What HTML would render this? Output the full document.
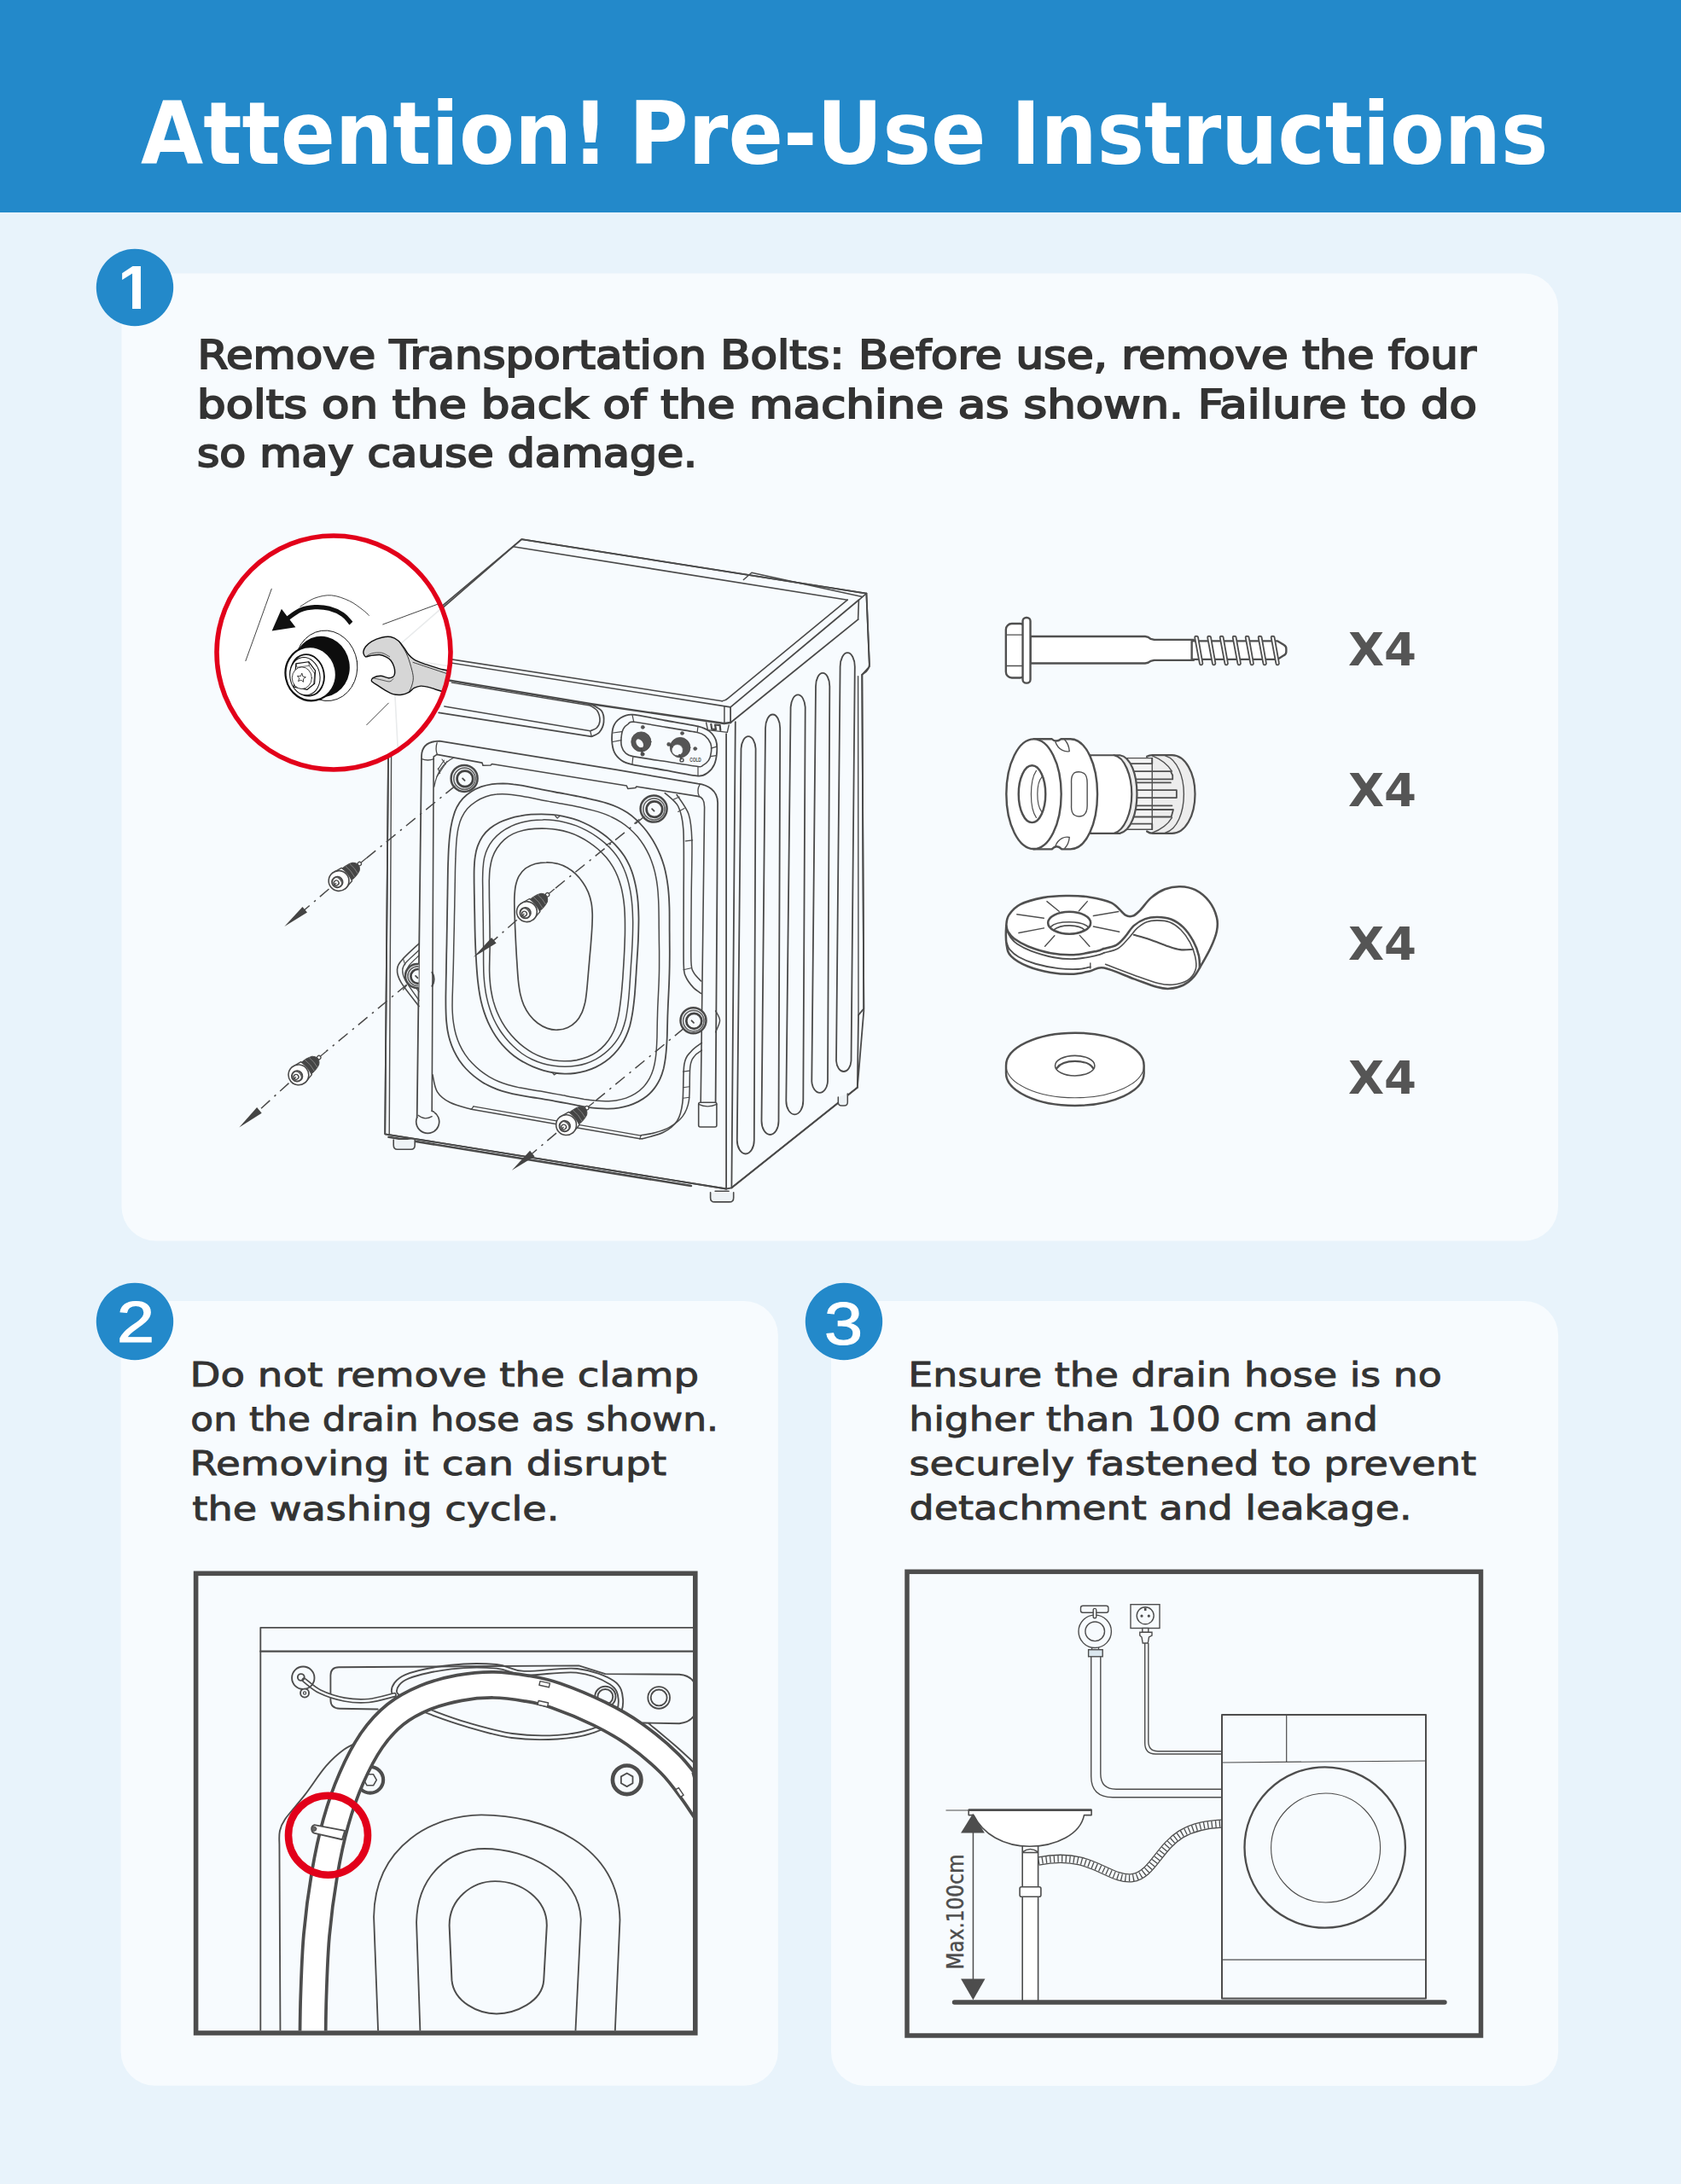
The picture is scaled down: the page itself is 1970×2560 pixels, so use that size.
<!DOCTYPE html>
<html lang="en">
<head>
<meta charset="utf-8">
<title>Attention! Pre-Use Instructions</title>
<style>
html,body{margin:0;padding:0;background:#e8f3fb;}
body{width:1970px;height:2560px;overflow:hidden;}
svg{display:block;}
svg{font-family:"Liberation Sans","DejaVu Sans",sans-serif;}
.ln{fill:none;stroke:#4a4a4a;stroke-width:2;stroke-linecap:round;stroke-linejoin:round;}
.lnf{fill:#f7fbfe;stroke:#4a4a4a;stroke-width:2;stroke-linecap:round;stroke-linejoin:round;}
.thin{fill:none;stroke:#4a4a4a;stroke-width:1.3;stroke-linecap:round;stroke-linejoin:round;}
</style>
</head>
<body>
<svg width="1970" height="2560" viewBox="0 0 1970 2560">
<!-- 10_base.svg -->
<rect x="0" y="0" width="1970" height="2560" fill="#e8f3fb"/>
<rect x="0" y="0" width="1970" height="249" fill="#2389ca"/>
<g font-size="102" font-weight="700" fill="#ffffff" font-family="'DejaVu Sans','Liberation Sans',sans-serif">
<text x="165" y="191.5" textLength="548.4" lengthAdjust="spacingAndGlyphs">Attention!</text>
<text x="737" y="191.5" textLength="418.4" lengthAdjust="spacingAndGlyphs">Pre-Use</text>
<text x="1185" y="191.5" textLength="629.3" lengthAdjust="spacingAndGlyphs">Instructions</text>
</g>
<!-- cards -->
<rect x="142.5" y="320.5" width="1683.5" height="1134" rx="40" fill="#f7fbfe"/>
<rect x="141.6" y="1525" width="770.2" height="919.8" rx="40" fill="#f7fbfe"/>
<rect x="974" y="1525" width="852.1" height="920" rx="40" fill="#f7fbfe"/>
<!-- step badges -->
<circle cx="158" cy="337" r="45.2" fill="#2389ca"/>
<clipPath id="one"><path d="M100,290 H220 V354 H164.95 V366 H155.05 V354 H100 Z"/></clipPath>
<text x="138.2" y="362" font-size="72" font-weight="700" fill="#fff" clip-path="url(#one)">1</text>
<circle cx="158" cy="1549" r="45.2" fill="#2389ca"/>
<text x="159" y="1572.5" font-size="69" fill="#fff" stroke="#fff" stroke-width="1.2" text-anchor="middle" textLength="44" lengthAdjust="spacingAndGlyphs">2</text>
<circle cx="989" cy="1549" r="45.2" fill="#2389ca"/>
<text x="988.5" y="1576" font-size="71" fill="#fff" stroke="#fff" stroke-width="1.2" text-anchor="middle" textLength="45" lengthAdjust="spacingAndGlyphs">3</text>
<!-- card 1 text -->
<g font-size="46" fill="#333333" stroke="#333333" stroke-width="2" font-family="'DejaVu Sans','Liberation Sans',sans-serif">
<text x="231.5" y="432" textLength="1498.5" lengthAdjust="spacingAndGlyphs">Remove Transportation Bolts: Before use, remove the four</text>
<text x="231" y="490" textLength="1500" lengthAdjust="spacingAndGlyphs">bolts on the back of the machine as shown. Failure to do</text>
<text x="231" y="547" textLength="586.1" lengthAdjust="spacingAndGlyphs">so may cause damage.</text>
</g>
<!-- card 2 text -->
<g font-size="38.8" fill="#333333" stroke="#333333" stroke-width="0.9" font-family="'DejaVu Sans','Liberation Sans',sans-serif">
<text x="222.5" y="1625" textLength="596.6" lengthAdjust="spacingAndGlyphs">Do not remove the clamp</text>
<text x="223.3" y="1677" textLength="618.6" lengthAdjust="spacingAndGlyphs">on the drain hose as shown.</text>
<text x="222.5" y="1729" textLength="558.6" lengthAdjust="spacingAndGlyphs">Removing it can disrupt</text>
<text x="225.3" y="1782" textLength="430.1" lengthAdjust="spacingAndGlyphs">the washing cycle.</text>
</g>
<!-- card 3 text -->
<g font-size="38.8" fill="#333333" stroke="#333333" stroke-width="0.9" font-family="'DejaVu Sans','Liberation Sans',sans-serif">
<text x="1064.3" y="1625" textLength="625.6" lengthAdjust="spacingAndGlyphs">Ensure the drain hose is no</text>
<text x="1065.3" y="1677" textLength="549.6" lengthAdjust="spacingAndGlyphs">higher than 100 cm and</text>
<text x="1065.5" y="1729" textLength="664.5" lengthAdjust="spacingAndGlyphs">securely fastened to prevent</text>
<text x="1065.5" y="1781" textLength="589.1" lengthAdjust="spacingAndGlyphs">detachment and leakage.</text>
</g>
<!-- x4 labels -->
<g font-size="53.5" font-weight="700" fill="#555555" font-family="'DejaVu Sans','Liberation Sans',sans-serif">
<text x="1580" y="780" textLength="80.1" lengthAdjust="spacingAndGlyphs">X4</text>
<text x="1580" y="944.5" textLength="80.1" lengthAdjust="spacingAndGlyphs">X4</text>
<text x="1580" y="1124.5" textLength="80.1" lengthAdjust="spacingAndGlyphs">X4</text>
<text x="1580" y="1281.5" textLength="80.1" lengthAdjust="spacingAndGlyphs">X4</text>
</g>

<!-- 20_washer.svg -->
<g id="washer" stroke="#4a4a4a" fill="none" stroke-linecap="round" stroke-linejoin="round">
<path d="M456.1,762.4 L611.3,632.1 L1015.4,695.7 L1018.9,781.3 L1010.3,790.8 L1012.3,1184.9 L1004.8,1274.8 L857.4,1392.3 L851.1,1393.5 L451.2,1329.3 Z" stroke-width="1.8" fill="#f7fbfe" />
<path d="M851.1,1393.5 L851.1,860.1" stroke-width="1.8" fill="none" />
<path d="M861.8,846.1 L857.4,1392.3" stroke-width="1.8" fill="none" />
<path d="M857.4,1392.3 L1004.8,1274.8" stroke-width="1.8" fill="none" />
<path d="M1010.3,790.8 L1012.3,1182.4 L1006,1189.9 L1004.8,1274.8" stroke-width="1.8" fill="none" />
<path d="M1005.6,792.7 L1006,1189.9" stroke-width="1.4" fill="none" />
<path d="M863.8,1336.5 L868.5,877.5 A8.6,16.2 0 0 1 885.6,877.5 L883.8,1336.5 A10.0,16.0 0 0 1 863.8,1336.5 Z" stroke-width="1.8" fill="none" />
<path d="M892.5,1314.0 L897.0,853.8 A8.6,16.3 0 0 1 914.2,853.8 L912.5,1314.0 A10.0,16.0 0 0 1 892.5,1314.0 Z" stroke-width="1.8" fill="none" />
<path d="M921.3,1290.3 L926.6,828.9 A8.6,16.2 0 0 1 943.7,828.9 L941.3,1290.3 A10.0,16.0 0 0 1 921.3,1290.3 Z" stroke-width="1.8" fill="none" />
<path d="M951.3,1267.5 L956.0,804.5 A8.1,15.5 0 0 1 972.3,804.5 L970.0,1267.5 A9.4,15.0 0 0 1 951.3,1267.5 Z" stroke-width="1.8" fill="none" />
<path d="M980.0,1243.5 L984.6,781.5 A8.6,16.3 0 0 1 1001.8,781.5 L997.5,1243.5 A8.8,14.0 0 0 1 980.0,1243.5 Z" stroke-width="1.8" fill="none" />
<path d="M461.4,762.4 L611.3,632.1 L1015.4,695.7" stroke-width="1.8" fill="none" />
<path d="M602.4,640 L614.2,640" stroke-width="0" fill="none" />
<path d="M601.3,640.7 L993.2,703.2" stroke-width="1.6" fill="none" />
<path d="M871.4,679.5 L880.9,671.3 L1010.4,699.5" stroke-width="1.5" fill="none" />
<path d="M993.2,703.2 L853.3,818.4 Q850.5,821.3 846.2,821.7" stroke-width="1.6" fill="none" />
<path d="M1006.4,703.3 L856.1,828.9 L856.1,847" stroke-width="1.8" fill="none" />
<path d="M848.9,827.7 L848.9,848" stroke-width="1.5" fill="none" />
<path d="M1015.4,695.7 L1006.4,703.3 L1005.6,726.1" stroke-width="1.6" fill="none" />
<path d="M1015.4,695.7 L1018.9,778.5 Q1018.9,785.6 1010.4,790.8" stroke-width="1.8" fill="none" />
<path d="M856.2,847 L1005.6,726.1" stroke-width="1.8" fill="none" />
<path d="M461.4,762.4 L846.2,821.7" stroke-width="1.6" fill="none" />
<path d="M463.6,766.7 L856.1,828.9" stroke-width="1.6" fill="none" />
<path d="M461.4,786.7 L691.6,825 L848.5,848 L856.2,847" stroke-width="2.4" fill="none" />
<path d="M529.2,800.1 L691.6,827" stroke-width="1.3" fill="none" />
<path d="M691.7,825 C693.9,826.4 702.3,829.7 705,833.3 C707.6,836.9 707.9,842.5 707.5,846.7 C707.1,850.8 704.8,855.5 702.5,858.3 C700.1,861.1 694.9,862.5 693.3,863.3 L514.2,835.3" stroke-width="1.8" fill="none" />
<path d="M691.7,827 C693.1,828.1 698.1,830.3 700,833.3 C701.9,836.3 703.1,841.7 703,845 C702.8,848.3 701,851.4 699.2,853.3 C697.3,855.3 692.9,856.1 691.7,856.7 L520.8,828.0" stroke-width="1.6" fill="none" />
<path d="M693.3,863.3 L691.7,856.7" stroke-width="1.3" fill="none" />
<path d="M740.9,837.6 C748.3,838 768.7,842.5 779.5,844.5 C790.3,846.4 810.8,849.6 818,851.4 C825.3,853.2 828.4,854.9 831.4,857.1 C834.3,859.4 837.7,864.1 839,867.6 C840.2,871.1 840.4,877.9 840.1,881.9 C839.8,885.9 838.6,892.8 837.1,896.1 C835.6,899.5 832.1,903.8 829.4,905.7 C826.8,907.5 825,909.9 818,909.5 C811,909.1 790.3,904.7 779.5,902.8 C768.7,900.9 748.1,897.7 740.9,896.1 C733.8,894.5 731.5,893.4 728.6,891.4 C725.6,889.4 721.6,885.2 720,881.9 C718.4,878.5 717.3,871.9 717.1,867.6 C717,863.3 717.7,855 719,851.4 C720.4,847.8 723.6,843.8 726.7,841.9 C729.7,840 733.5,837.2 740.9,837.6 Z" stroke-width="1.8" fill="none" />
<path d="M742.8,846.2 C749,846.7 769.6,850.6 780,852.4 C790.3,854.1 810.5,857.1 817.1,858.5 C823.6,860 824.4,861 826.6,862.8 C828.8,864.6 831.8,868.7 832.8,871.4 C833.7,874.1 833.8,879.1 833.4,881.9 C833.1,884.7 831.8,889.3 830.4,891.4 C829,893.5 825.5,896.1 823.7,897.1 C822,898.1 824.2,899.2 818,898.5 C811.9,897.9 790.6,894.2 780,892.5 C769.3,890.9 748.4,888 741.9,886.6 C735.4,885.3 735.2,884.4 733.3,882.8 C731.4,881.2 729.3,877.7 728.6,875.2 C727.8,872.7 727.8,867.7 728.1,864.7 C728.3,861.8 729.3,856.5 730.5,854.3 C731.6,852 734.4,849.7 736.2,848.6 C737.9,847.4 736.7,845.6 742.8,846.2 Z" stroke-width="1.6" fill="none" />
<path d="M740.9,837.6 L742.8,846.2" stroke-width="1.2" fill="none" />
<path d="M818,851.4 L817.1,858.5" stroke-width="1.2" fill="none" />
<path d="M818,909.5 L818,898.5" stroke-width="1.2" fill="none" />
<path d="M740.9,896.1 L741.9,886.6" stroke-width="1.2" fill="none" />
<path d="M718.6,859 L728.6,857.6" stroke-width="1.2" fill="none" />
<path d="M718.1,869.5 L728.1,867.6" stroke-width="1.2" fill="none" />
<path d="M833.3,877.1 L839.9,875.2" stroke-width="1.2" fill="none" />
<path d="M832.8,886.6 L839.4,885.7" stroke-width="1.2" fill="none" />
<circle cx="751.4" cy="869.5" r="11.6" fill="#555" stroke-width="0.8" />
<ellipse cx="749.7" cy="871.4" rx="3.6" ry="5.6" fill="#f7fbfe" stroke="none" transform="rotate(-35 749.7 871.4)"/>
<circle cx="753.3" cy="852.4" r="2.1" fill="#555" stroke-width="0.4" />
<circle cx="753.0" cy="884.0" r="2.3" fill="#555" stroke-width="0.4" />
<path d="M751.4,877.1 L753,884" stroke-width="2" fill="none" />
<circle cx="797.1" cy="876.2" r="11.8" fill="#555" stroke-width="0.8" />
<circle cx="793.8" cy="879.2" r="6.6" fill="#f7fbfe" stroke-width="0.6" />
<circle cx="799.5" cy="859.5" r="2.1" fill="#555" stroke-width="0.4" />
<circle cx="783.8" cy="872.4" r="2.2" fill="#555" stroke-width="0.4" />
<circle cx="814.7" cy="877.6" r="2.1" fill="#555" stroke-width="0.4" />
<circle cx="799.0" cy="890.9" r="2.0" fill="#f7fbfe" stroke-width="1.4" />
<path d="M796.1,884.7 L798.6,889.5" stroke-width="1.8" fill="none" />
<path d="M784.7,873.3 L788,875.7" stroke-width="1.6" fill="none" />
<text x="808.3" y="893.1" font-size="6.4" font-weight="700" fill="#4a4a4a" stroke="none" font-family="'Liberation Sans',sans-serif" textLength="13.5" lengthAdjust="spacingAndGlyphs">COLD</text>
<path d="M827.6,847 L829.5,855.6 L852.3,858.4 L854.2,849.9" stroke-width="1.4" fill="none" />
<path d="M833.3,848.9 L834.2,854.6 L839,855.2 L838,849.5 L843.7,850.2 L844.3,856" stroke-width="2.2" fill="none" />
<path d="M456.1,762.4 L451.2,1329.3 L851.1,1393.5" stroke-width="1.8" fill="none" />
<path d="M458.6,880 L456.2,1330.3" stroke-width="1.4" fill="none" />
<path d="M455.5,1332.8 L809.9,1390" stroke-width="2.6" fill="none" />
<path d="M461.2,1336.1 v6.1 q0,5.0 4.5,5.0 h16.0 q4.5,0 4.5,-5.0 v-6.1" stroke-width="1.6" fill="#eef3f6" />
<path d="M466.2,1334.6 h15.0" stroke-width="1.4" fill="none" />
<path d="M832.6,1397.8 v6.1 q0,5.0 4.9,5.0 h17.3 q4.9,0 4.9,-5.0 v-6.1" stroke-width="1.6" fill="#eef3f6" />
<path d="M838.0,1396.3 h16.2" stroke-width="1.4" fill="none" />
<path d="M982.3,1286.1 v6 q0,4 4,4 h3 q4,0 4,-4 v-10" stroke-width="1.5" fill="#eef3f6" />
<path d="M488.7,1309.8 L494,886 Q494.5,869 515,868.6 L723.2,902.4 L817.9,918.7 C829,920 841.1,926 841.1,941 L838.6,1292.3" stroke-width="1.8" fill="none" />
<path d="M506.2,1302.3 L508.2,887 L512,884.4 L565,894.1 l1,3.2 l9,-0.3 l1.5,-1.5 L734.3,921 l1.5,3.5 l9,-1 l1,-1.5 L817.9,933.4 Q825.6,934.5 825.6,946 L821.2,1292.3" stroke-width="1.6" fill="none" />
<path d="M512.1,870.7 Q510.0,877.5 512.3,884.3" stroke-width="1.3" fill="none" />
<path d="M494.2,889.7 Q501.4,892.3 508.5,889.7" stroke-width="1.3" fill="none" />
<path d="M820.2,919.4 Q816.0,926.4 819.4,933.4" stroke-width="1.3" fill="none" />
<path d="M531.1,888.5 Q513.3,897.1 508.8,922.1" stroke-width="1.3" fill="none" />
<path d="M513.3,901.9 L520.4,891.2" stroke-width="1.1" fill="none" />
<path d="M512.1,910.2 L524,892.3" stroke-width="1.1" fill="none" />
<path d="M518,890 L522.2,895.9" stroke-width="1.1" fill="none" />
<path d="M513.3,900.7 L515.7,906.6" stroke-width="1.1" fill="none" />
<path d="M488.7,1309.8 A13.5,13.5 0 1 0 506.2,1302.3" stroke-width="1.7"/>
<path d="M490.0,1307.3 Q497.5,1313.6 506.2,1308.6" stroke-width="1.3"/>
<rect x="818.7" y="1292.3" width="21.2" height="28.7" rx="2" fill="#f7fbfe" stroke-width="1.6"/>
<path d="M818.7,1294.3 q10.6,5 21.2,0" stroke-width="1.3"/>
<path d="M779.2,929.5 C781.3,931.6 791.8,939.2 794.7,945 C797.6,950.8 800,958.8 800.9,972.8 C801.8,986.8 801.2,1029 801.2,1050 C801.2,1071 800.9,1117.3 801.2,1130 C801.5,1142.7 802.2,1141.2 803.7,1144.9 C805.2,1148.6 810,1154.8 812.4,1157.4 C814.8,1160 820.3,1163.6 821.5,1164.5" stroke-width="1.6" fill="none" />
<path d="M793.1,931.5 C795,934.5 804.6,947 807,954.2 C809.4,961.4 810.5,972.4 810.9,985.2 C811.3,998 810.3,1031.2 810.2,1050 C810.1,1068.8 809.5,1114.2 809.9,1126.2 C810.3,1138.2 811.4,1136.7 812.9,1139.9 C814.4,1143.1 820.4,1148.7 821.5,1150" stroke-width="1.5" fill="none" />
<path d="M788.5,937.5 L796.2,934.1" stroke-width="1.1" fill="none" />
<path d="M794.7,951.5 L802.1,947.6" stroke-width="1.1" fill="none" />
<path d="M803.2,985.9 L811.7,984.9" stroke-width="1.1" fill="none" />
<path d="M800.9,1136.8 l9,-2" stroke-width="1.1" fill="none" />
<path d="M822.4,1222.4 C820.3,1224 813.3,1228.2 809.9,1232.4 C806.5,1236.5 803.6,1237.4 801.9,1247.4 C800.2,1257.4 801.3,1281.3 799.9,1292.3 C798.5,1303.4 797.4,1307.7 793.7,1313.6 C789.9,1319.4 784.3,1323.8 777.4,1327.3 C770.6,1330.8 756.6,1333.6 752.4,1334.8" stroke-width="1.6" fill="none" />
<path d="M822.4,1231.1 C821.1,1232.2 816.7,1234.2 814.4,1237.4 C812.2,1240.5 810.1,1241.1 808.9,1249.9 C807.7,1258.6 808.9,1280 807.4,1289.8 C805.9,1299.6 803.7,1303.4 799.9,1308.6 C796.2,1313.8 790.3,1317.9 784.9,1321.1 C779.5,1324.3 773.1,1326.2 767.4,1327.8 C761.8,1329.4 753.9,1330.3 751.2,1330.8" stroke-width="1.5" fill="none" />
<path d="M752.4,1334.8 L749.8,1334.8" stroke-width="1.6" fill="none" />
<path d="M751.1,1331.1 L554.9,1296.8" stroke-width="1.3" fill="none" />
<path d="M749.8,1334.8 L552.4,1300.3" stroke-width="1.6" fill="none" />
<path d="M552.4,1300.3 C548.3,1299 534.1,1295.7 527.4,1292.3 C520.8,1288.9 515.9,1285.3 512.5,1279.8 C509,1274.4 507.9,1263.2 507,1259.9" stroke-width="1.6" fill="none" />
<path d="M749.8,1334.8 L751.1,1331.1" stroke-width="1.2" fill="none" />
<path d="M552.4,1300.3 L554.9,1296.8" stroke-width="1.2" fill="none" />
<path d="M800.4,1256.1 L807.9,1255.1" stroke-width="1.1" fill="none" />
<path d="M800.4,1274.8 L807.9,1273.8" stroke-width="1.1" fill="none" />
<path d="M800.4,1287.3 L807.9,1286.3" stroke-width="1.1" fill="none" />
<path d="M524.7,1032.1 C524.8,1028 524.8,1023.9 524.9,1019.7 C525,1015.6 525.1,1011.3 525.3,1007.2 C525.4,1003 525.6,999 525.8,994.8 C526.1,990.6 526.4,986.2 526.8,982 C527.3,977.7 527.7,973.4 528.5,969.2 C529.2,965.1 530.1,960.8 531.3,956.9 C532.4,953 533.8,949.2 535.6,945.7 C537.5,942.2 539.8,938.7 542.5,935.8 C545.3,932.8 548.6,930.1 552.2,927.9 C555.8,925.6 559.9,923.7 564,922.2 C568.1,920.8 572.6,919.8 576.8,919.1 C581.1,918.5 585.3,918.3 589.4,918.3 C593.6,918.4 597.7,918.8 601.8,919.3 C605.9,919.7 609.8,920.5 613.9,921.2 C618,922 622,922.8 626.1,923.6 C630.2,924.5 634.4,925.3 638.6,926.1 C642.7,926.9 646.8,927.7 650.9,928.5 C654.9,929.3 659,930 663,930.7 C667,931.5 671,932.2 675,933 C679,933.8 683.1,934.6 687.2,935.5 C691.3,936.4 695.5,937.3 699.7,938.4 C703.8,939.4 708.2,940.5 712.3,941.9 C716.4,943.2 720.5,944.7 724.3,946.5 C728.1,948.3 731.7,950.3 735.2,952.6 C738.7,954.9 742,957.6 745.1,960.4 C748.2,963.2 751.1,966.3 753.9,969.5 C756.7,972.7 759.3,976.1 761.7,979.7 C764.1,983.2 766.4,987 768.4,990.8 C770.5,994.7 772.3,998.6 773.9,1002.6 C775.5,1006.6 776.9,1010.7 778.1,1014.8 C779.3,1018.9 780.2,1023.1 781,1027.3 C781.8,1031.5 782.4,1035.7 782.9,1039.9 C783.4,1044.1 783.7,1048.3 784,1052.5 C784.2,1056.6 784.4,1060.7 784.5,1064.9 C784.6,1069.1 784.6,1073.3 784.6,1077.5 C784.6,1081.7 784.6,1085.9 784.6,1090 C784.7,1094.2 784.7,1098.4 784.7,1102.5 C784.7,1106.7 784.8,1110.7 784.8,1114.9 C784.8,1119 784.8,1123.2 784.7,1127.4 C784.7,1131.5 784.6,1135.7 784.5,1140 C784.4,1144.2 784.2,1148.6 784.1,1152.8 C783.9,1157.1 783.7,1161.5 783.5,1165.7 C783.3,1170 783.1,1174.1 782.9,1178.3 C782.7,1182.5 782.6,1186.7 782.4,1190.8 C782.3,1194.9 782.2,1198.9 782.1,1203 C782,1207.1 781.9,1211.2 781.8,1215.3 C781.6,1219.4 781.4,1223.4 781.1,1227.5 C780.8,1231.6 780.4,1235.8 779.9,1240 C779.3,1244.1 778.7,1248.3 777.7,1252.4 C776.6,1256.5 775.3,1260.7 773.5,1264.6 C771.7,1268.4 769.4,1272.3 766.9,1275.6 C764.3,1279 761.3,1282.1 758.1,1284.8 C754.9,1287.4 751.4,1289.5 747.8,1291.4 C744.3,1293.2 740.6,1294.7 736.9,1295.9 C733.1,1297.1 729.2,1298 725.2,1298.6 C721.2,1299.2 717,1299.5 712.9,1299.6 C708.8,1299.7 704.7,1299.5 700.6,1299.2 C696.5,1298.9 692.4,1298.4 688.3,1297.8 C684.2,1297.2 680.3,1296.4 676.2,1295.6 C672,1294.9 667.7,1294 663.5,1293.2 C659.3,1292.4 655,1291.6 650.8,1290.8 C646.6,1290 642.3,1289.3 638.1,1288.6 C633.8,1287.8 629.5,1287.2 625.2,1286.5 C621,1285.8 616.7,1285.1 612.6,1284.4 C608.5,1283.7 604.6,1283 600.6,1282.1 C596.5,1281.2 592.4,1280.2 588.4,1278.9 C584.4,1277.6 580.5,1276.2 576.6,1274.4 C572.7,1272.6 568.7,1270.6 565.2,1268.4 C561.6,1266.1 558.3,1263.7 555.1,1261.1 C551.9,1258.5 548.8,1255.6 545.9,1252.5 C543.1,1249.5 540.5,1246.1 538.1,1242.7 C535.8,1239.2 533.7,1235.4 531.9,1231.7 C530.1,1227.9 528.6,1224.1 527.4,1220.1 C526.2,1216.1 525.2,1211.9 524.5,1207.8 C523.8,1203.7 523.4,1199.6 523,1195.4 C522.7,1191.2 522.6,1187 522.5,1182.8 C522.4,1178.6 522.4,1174.5 522.4,1170.2 C522.4,1166 522.5,1161.7 522.6,1157.4 C522.6,1153.1 522.7,1148.7 522.8,1144.5 C522.9,1140.2 523,1136 523,1131.8 C523.1,1127.7 523.2,1123.6 523.2,1119.5 C523.3,1115.3 523.4,1111.2 523.5,1107 C523.6,1102.9 523.6,1098.7 523.7,1094.5 C523.8,1090.4 523.9,1086.2 523.9,1082 C524,1077.8 524.1,1073.6 524.1,1069.4 C524.2,1065.2 524.3,1061 524.3,1056.8 C524.4,1052.7 524.5,1048.7 524.5,1044.6 C524.6,1040.5 524.7,1036.3 524.7,1032.1 Z" stroke-width="1.8" fill="none" />
<path d="M533.3,1032 C533.4,1029.3 533.4,1023.7 533.5,1019.5 C533.6,1015.3 533.7,1011.1 533.9,1006.9 C534,1002.8 534.2,998.7 534.4,994.6 C534.6,990.5 534.9,986.4 535.3,982.3 C535.8,978.2 536.2,974.1 537.2,970.1 C538.1,966.1 539.2,962.1 541,958.4 C542.8,954.7 545,951 547.8,947.8 C550.7,944.7 554.3,941.6 558,939.3 C561.6,936.9 565.5,935.1 569.5,933.7 C573.5,932.3 577.9,931.5 582,931.1 C586.1,930.6 589.9,930.7 594,930.9 C598.1,931.1 602.4,931.7 606.6,932.4 C610.7,933 614.9,933.8 619.1,934.6 C623.4,935.5 627.8,936.4 632.1,937.2 C636.4,938.1 640.8,938.9 645.1,939.7 C649.4,940.5 653.7,941.3 657.9,942 C662.2,942.8 666.3,943.5 670.5,944.3 C674.7,945.2 678.8,946 682.9,946.9 C686.9,947.8 690.9,948.8 694.8,949.9 C698.8,951 702.6,952.1 706.4,953.4 C710.1,954.8 713.8,956.2 717.4,958 C721,959.7 724.6,961.7 728,963.9 C731.5,966.2 734.9,968.7 738,971.5 C741.2,974.3 744.2,977.3 747,980.5 C749.7,983.8 752.3,987.3 754.6,991 C756.8,994.6 758.9,998.5 760.7,1002.4 C762.5,1006.4 764,1010.4 765.3,1014.5 C766.6,1018.6 767.7,1022.8 768.5,1027 C769.4,1031.2 770,1035.4 770.5,1039.6 C771,1043.8 771.3,1048 771.5,1052.2 C771.8,1056.4 771.9,1060.5 772,1064.7 C772.1,1068.9 772.1,1073.1 772.2,1077.4 C772.2,1081.6 772.2,1085.8 772.3,1090 C772.3,1094.2 772.4,1098.4 772.4,1102.5 C772.5,1106.7 772.5,1110.7 772.6,1114.9 C772.6,1119 772.6,1123.2 772.6,1127.4 C772.6,1131.5 772.6,1135.7 772.5,1140 C772.4,1144.2 772.3,1148.6 772.1,1152.8 C771.9,1157.1 771.7,1161.5 771.5,1165.7 C771.3,1170 771.1,1174.1 770.9,1178.3 C770.7,1182.5 770.6,1186.8 770.5,1190.9 C770.3,1195.1 770.3,1199.1 770.2,1203.3 C770.1,1207.4 770.1,1211.6 770,1215.7 C769.8,1219.9 769.7,1224 769.4,1228.2 C769.2,1232.3 768.8,1236.6 768.2,1240.8 C767.6,1244.9 766.8,1249.2 765.6,1253.2 C764.4,1257.1 762.9,1260.9 761,1264.4 C759,1267.9 756.7,1271.3 753.9,1274.2 C751.2,1277.1 747.9,1279.7 744.5,1281.9 C741.2,1284 737.5,1285.7 733.7,1287.1 C730,1288.4 725.9,1289.3 721.9,1289.9 C717.9,1290.5 713.7,1290.6 709.5,1290.7 C705.4,1290.7 701.2,1290.4 697,1290.1 C692.9,1289.7 688.7,1289.1 684.5,1288.5 C680.4,1287.8 676.4,1287 672.2,1286.2 C668,1285.5 663.7,1284.6 659.4,1283.8 C655.1,1282.9 650.8,1282.1 646.5,1281.4 C642.2,1280.6 637.9,1279.9 633.6,1279.1 C629.3,1278.4 624.9,1277.7 620.7,1277 C616.4,1276.3 612.4,1275.6 608.3,1274.8 C604.2,1273.9 600,1273 596,1271.8 C592.1,1270.6 588.3,1269.3 584.5,1267.7 C580.6,1266.1 576.8,1264.2 573.2,1262.1 C569.6,1259.9 566.1,1257.5 562.8,1254.9 C559.5,1252.2 556.2,1249.3 553.2,1246.1 C550.2,1243 547.4,1239.5 545,1235.9 C542.5,1232.3 540.5,1228.5 538.7,1224.6 C536.9,1220.7 535.5,1216.8 534.3,1212.7 C533.1,1208.5 532.2,1204.1 531.6,1199.9 C530.9,1195.7 530.5,1191.6 530.3,1187.3 C530,1183.1 530,1178.7 530.1,1174.5 C530.1,1170.3 530.2,1166.1 530.4,1161.9 C530.5,1157.6 530.7,1153.1 530.8,1148.8 C530.9,1144.5 531.1,1140.2 531.2,1136 C531.3,1131.8 531.4,1127.7 531.5,1123.6 C531.6,1119.4 531.7,1115.3 531.7,1111.2 C531.8,1107 531.9,1102.9 532,1098.7 C532.1,1094.5 532.2,1090.3 532.3,1086.2 C532.4,1082 532.4,1077.8 532.5,1073.6 C532.6,1069.4 532.7,1065.1 532.8,1061 C532.8,1056.8 532.9,1052.8 533,1048.7 C533.1,1044.6 533.2,1039 533.2,1036.2 C533.3,1033.5 533.3,1034.8 533.3,1032 Z" stroke-width="1.5" fill="none" />
<path d="M555.6,1030.4 C555.6,1027.6 555.5,1022.1 555.7,1017.8 C555.9,1013.4 556.1,1008.7 556.8,1004.4 C557.4,1000.1 558.2,995.9 559.7,991.9 C561.1,987.9 563,983.9 565.4,980.4 C567.8,976.9 570.9,973.7 574.2,971 C577.6,968.3 581.4,966 585.3,964 C589.2,962.1 593.4,960.6 597.5,959.3 C601.6,958 605.8,957.1 609.9,956.4 C614,955.6 618.2,955.1 622.3,954.7 C626.5,954.4 630.5,954.3 634.6,954.3 C638.7,954.3 642.8,954.5 646.9,954.9 C650.9,955.3 655,955.8 659.1,956.6 C663.2,957.4 667.3,958.4 671.4,959.7 C675.5,960.9 679.7,962.5 683.7,964.3 C687.7,966.1 691.7,968.1 695.4,970.3 C699.2,972.4 702.8,974.8 706.2,977.3 C709.6,979.7 712.8,982.3 715.8,985.1 C718.8,987.8 721.7,990.7 724.3,993.8 C727,996.9 729.4,1000.1 731.7,1003.5 C733.9,1007 735.8,1010.6 737.6,1014.4 C739.3,1018.1 740.7,1022.1 742,1026.2 C743.2,1030.3 744.2,1034.7 745.1,1038.9 C745.9,1043.2 746.6,1047.5 747.1,1051.7 C747.6,1056 747.9,1060.2 748.1,1064.4 C748.4,1068.6 748.4,1072.8 748.5,1077 C748.5,1081.2 748.4,1085.4 748.3,1089.7 C748.2,1094 748.1,1098.3 747.9,1102.6 C747.7,1106.9 747.4,1111.1 747.2,1115.3 C746.9,1119.6 746.6,1123.8 746.4,1128 C746.1,1132.2 745.8,1136.5 745.6,1140.7 C745.3,1144.8 745.1,1148.8 744.8,1152.9 C744.5,1157 744.2,1161.2 743.9,1165.3 C743.5,1169.4 743.1,1173.4 742.6,1177.5 C742.1,1181.6 741.6,1185.8 740.8,1189.9 C740.1,1194 739.3,1198.1 738.2,1202.2 C737,1206.3 735.6,1210.4 733.8,1214.3 C732.1,1218.3 730,1222.1 727.5,1225.7 C725.1,1229.3 722.2,1232.8 719.2,1235.9 C716.2,1239 712.9,1241.8 709.4,1244.3 C705.9,1246.8 702.1,1249 698.2,1250.9 C694.4,1252.7 690.3,1254.2 686.3,1255.4 C682.2,1256.6 678,1257.5 673.8,1258 C669.7,1258.6 665.7,1258.8 661.6,1258.7 C657.5,1258.6 653.4,1258.2 649.3,1257.5 C645.3,1256.9 641.3,1256 637.2,1254.8 C633,1253.6 628.7,1252.1 624.6,1250.4 C620.6,1248.7 616.6,1246.8 612.9,1244.6 C609.1,1242.5 605.4,1240 602.1,1237.5 C598.7,1234.9 595.7,1232.1 592.8,1229.1 C589.9,1226.2 587.1,1223 584.6,1219.7 C582.1,1216.4 579.8,1213 577.7,1209.4 C575.6,1205.8 573.7,1202.1 571.9,1198.2 C570.2,1194.3 568.7,1190.2 567.3,1186.1 C565.9,1182 564.7,1177.7 563.7,1173.4 C562.8,1169.2 562,1165 561.4,1160.8 C560.7,1156.7 560.3,1152.5 559.8,1148.5 C559.4,1144.6 559.1,1140.9 558.8,1136.9 C558.5,1132.9 558.2,1128.5 558,1124.3 C557.7,1120.1 557.5,1116.1 557.3,1111.9 C557.1,1107.7 557,1103.1 556.8,1098.9 C556.7,1094.6 556.6,1090.6 556.5,1086.3 C556.4,1082 556.4,1077.4 556.3,1072.9 C556.2,1068.5 556.1,1063.8 556,1059.5 C556,1055.2 555.9,1051.4 555.8,1047.2 C555.7,1043 555.7,1037.2 555.6,1034.4 C555.6,1031.6 555.6,1033.2 555.6,1030.4 Z" stroke-width="1.8" fill="none" />
<path d="M565.6,1030.6 C565.7,1026.4 565.7,1022.5 566,1018.4 C566.3,1014.2 566.7,1009.8 567.5,1005.9 C568.4,1002 569.4,998.5 571.2,994.9 C572.9,991.2 575.2,987.4 577.9,984.2 C580.6,980.9 583.9,977.9 587.4,975.3 C590.8,972.7 594.7,970.5 598.6,968.7 C602.4,966.8 606.3,965.4 610.4,964.3 C614.4,963.1 618.4,962.4 622.7,961.8 C626.9,961.2 631.3,960.9 635.7,960.9 C640.1,960.8 644.7,961 649.1,961.5 C653.6,962 658.1,962.8 662.4,963.9 C666.8,964.9 671.2,966.3 675.4,967.9 C679.6,969.6 683.7,971.5 687.7,973.7 C691.7,975.8 695.5,978.1 699.1,980.6 C702.7,983.1 706.2,985.8 709.4,988.6 C712.6,991.4 715.5,994.3 718.2,997.5 C720.9,1000.6 723.3,1003.9 725.5,1007.4 C727.6,1010.9 729.5,1014.5 731.1,1018.3 C732.8,1022.1 734.2,1026.2 735.4,1030.3 C736.6,1034.4 737.6,1038.8 738.4,1043 C739.3,1047.2 739.8,1051.5 740.3,1055.7 C740.8,1060 741.1,1064.2 741.3,1068.4 C741.5,1072.7 741.6,1076.9 741.7,1081.1 C741.7,1085.4 741.6,1089.7 741.5,1094 C741.4,1098.3 741.2,1102.6 741,1106.9 C740.8,1111.1 740.5,1115.4 740.3,1119.6 C740,1123.8 739.7,1128 739.4,1132.3 C739.2,1136.5 738.9,1140.7 738.6,1144.9 C738.4,1149 738.1,1153.1 737.8,1157.2 C737.5,1161.3 737.2,1165.4 736.8,1169.6 C736.4,1173.7 736,1177.9 735.4,1182 C734.8,1186.2 734.2,1190.4 733.3,1194.5 C732.3,1198.5 731.2,1202.6 729.7,1206.4 C728.3,1210.2 726.5,1213.8 724.4,1217.1 C722.3,1220.5 719.8,1223.7 717.1,1226.7 C714.4,1229.6 711.4,1232.4 708.3,1234.8 C705.2,1237.3 701.8,1239.6 698.3,1241.6 C694.7,1243.5 690.9,1245.2 687,1246.5 C683.2,1247.8 679.1,1248.7 674.9,1249.3 C670.7,1250 666.3,1250.2 662,1250.2 C657.7,1250.2 653.2,1249.9 648.9,1249.3 C644.5,1248.6 640.1,1247.8 635.8,1246.5 C631.6,1245.3 627.4,1243.7 623.4,1241.8 C619.4,1239.9 615.5,1237.6 611.8,1235 C608.2,1232.4 604.6,1229.4 601.4,1226.3 C598.1,1223.3 595.1,1219.9 592.3,1216.5 C589.6,1213.1 587,1209.7 584.8,1206 C582.5,1202.4 580.5,1198.7 578.7,1194.8 C576.9,1190.9 575.3,1186.7 574,1182.5 C572.6,1178.3 571.4,1173.9 570.5,1169.6 C569.5,1165.4 568.8,1161 568.3,1156.8 C567.7,1152.7 567.4,1148.7 567.1,1144.7 C566.8,1140.7 566.7,1137 566.7,1132.9 C566.6,1128.8 566.6,1124.4 566.6,1120.2 C566.6,1116 566.6,1111.9 566.6,1107.7 C566.5,1103.4 566.5,1099 566.4,1094.7 C566.4,1090.5 566.3,1086.6 566.3,1082.2 C566.2,1077.9 566.1,1073.3 566.1,1068.9 C566,1064.4 565.9,1059.9 565.9,1055.7 C565.8,1051.5 565.8,1047.6 565.8,1043.4 C565.7,1039.2 565.6,1034.7 565.6,1030.6 Z" stroke-width="1.5" fill="none" />
<path d="M573.4,1030.5 C573.5,1027.7 573.6,1022.3 574.2,1018.2 C574.8,1014 575.6,1009.4 576.9,1005.4 C578.3,1001.4 580.1,997.7 582.4,994.2 C584.7,990.7 587.6,987.1 590.8,984.3 C593.9,981.5 597.6,979.2 601.3,977.4 C605.1,975.6 609.3,974.3 613.5,973.3 C617.7,972.3 622.1,971.8 626.5,971.4 C630.9,971.1 635.5,971 640.1,971.2 C644.6,971.4 649.3,971.8 653.7,972.6 C658.2,973.3 662.5,974.4 666.7,975.8 C670.9,977.1 675,978.7 678.9,980.7 C682.8,982.6 686.6,984.8 690.3,987.3 C693.9,989.7 697.6,992.5 701,995.5 C704.4,998.4 707.6,1001.7 710.5,1005.1 C713.3,1008.5 715.9,1012.2 718.2,1015.9 C720.4,1019.6 722.2,1023.4 723.8,1027.3 C725.4,1031.3 726.7,1035.4 727.8,1039.4 C728.9,1043.4 729.6,1047.5 730.3,1051.6 C731,1055.7 731.4,1059.8 731.8,1064 C732.1,1068.1 732.3,1072.4 732.4,1076.7 C732.5,1080.9 732.5,1085.1 732.5,1089.4 C732.5,1093.7 732.4,1098.1 732.2,1102.4 C732.1,1106.7 731.9,1110.9 731.7,1115.2 C731.5,1119.4 731.3,1123.6 731,1127.9 C730.8,1132.2 730.5,1136.5 730.2,1140.7 C730,1144.9 729.7,1149 729.3,1153.2 C729,1157.3 728.6,1161.5 728.2,1165.7 C727.7,1169.9 727.3,1174 726.7,1178.2 C726.2,1182.4 725.6,1186.6 724.7,1190.8 C723.8,1195 722.8,1199.3 721.4,1203.2 C720.1,1207.1 718.4,1210.9 716.3,1214.4 C714.3,1218 711.8,1221.4 709.1,1224.4 C706.4,1227.4 703.4,1230.2 700,1232.6 C696.6,1235 692.8,1237.1 688.7,1238.8 C684.7,1240.4 680.3,1241.7 675.9,1242.6 C671.4,1243.4 666.5,1243.8 662,1243.8 C657.4,1243.9 652.8,1243.4 648.4,1242.7 C644,1241.9 639.7,1240.8 635.7,1239.3 C631.7,1237.9 627.9,1236.1 624.2,1234.1 C620.5,1232.1 617.1,1229.8 613.7,1227.2 C610.4,1224.7 607.3,1221.9 604.3,1218.9 C601.3,1215.8 598.3,1212.5 595.6,1209 C593,1205.5 590.4,1201.7 588.2,1197.8 C586,1194 584,1189.8 582.3,1185.8 C580.6,1181.7 579.3,1177.5 578.1,1173.4 C577,1169.3 576.2,1165.1 575.5,1161 C574.8,1156.9 574.4,1152.7 574.1,1148.7 C573.7,1144.7 573.7,1141 573.6,1137 C573.6,1132.9 573.7,1128.5 573.8,1124.3 C573.8,1120.1 574,1116.1 574.1,1111.9 C574.1,1107.7 574.1,1103.2 574.1,1098.9 C574.1,1094.7 574,1090.7 574,1086.4 C573.9,1082.1 573.8,1077.6 573.8,1073.1 C573.7,1068.7 573.6,1064 573.6,1059.7 C573.5,1055.5 573.4,1051.6 573.4,1047.4 C573.4,1043.2 573.3,1037.4 573.3,1034.5 C573.3,1031.7 573.2,1033.2 573.4,1030.5 Z" stroke-width="1.6" fill="none" />
<path d="M603.8,1090.1 C603.6,1085.7 603.4,1081.2 603.3,1076.9 C603.1,1072.5 603,1068.2 602.9,1063.9 C602.8,1059.6 602.7,1055.4 602.9,1051.1 C603.2,1046.9 603.4,1042.6 604.2,1038.5 C605.1,1034.5 606.2,1030.4 608.2,1026.9 C610.1,1023.5 612.7,1020.3 615.9,1017.9 C619.1,1015.5 623.2,1013.7 627.3,1012.5 C631.3,1011.4 636,1010.8 640.3,1010.8 C644.6,1010.7 649.1,1011.3 653.2,1012.3 C657.3,1013.4 661.1,1015 664.6,1017 C668.2,1019 671.6,1021.5 674.6,1024.4 C677.7,1027.3 680.6,1030.8 683.1,1034.4 C685.6,1037.9 687.7,1041.8 689.4,1045.8 C691,1049.8 692.2,1054.1 693,1058.3 C693.8,1062.4 694,1066.4 694.2,1070.6 C694.4,1074.8 694.1,1079.2 694,1083.5 C693.8,1087.8 693.5,1092.1 693.2,1096.5 C692.9,1100.8 692.5,1105.3 692.2,1109.7 C691.8,1114 691.4,1118.3 691,1122.6 C690.7,1127 690.3,1131.2 689.9,1135.6 C689.5,1139.9 689.2,1144.2 688.8,1148.5 C688.4,1152.8 688.1,1157.1 687.6,1161.4 C687.1,1165.7 686.7,1170.3 685.8,1174.5 C684.8,1178.7 683.7,1183 682,1186.8 C680.2,1190.6 678,1194.5 675.2,1197.4 C672.4,1200.4 668.9,1202.9 665.3,1204.5 C661.7,1206.1 657.6,1207.1 653.6,1207.2 C649.6,1207.4 645.3,1206.8 641.4,1205.4 C637.5,1204.1 633.6,1201.9 630.1,1199.3 C626.6,1196.7 623.3,1193.3 620.6,1189.8 C617.9,1186.3 615.6,1182 613.8,1178.1 C612,1174.1 610.9,1170.1 609.9,1165.9 C608.9,1161.8 608.4,1157.5 607.8,1153.4 C607.3,1149.3 607,1145.5 606.7,1141.4 C606.4,1137.3 606.1,1133 605.9,1128.8 C605.6,1124.6 605.3,1120.5 605.1,1116.2 C604.9,1112 604.6,1107.6 604.4,1103.3 C604.2,1098.9 604,1094.5 603.8,1090.1 Z" stroke-width="1.7" fill="none" />
<path d="M650.7,956.5 L653.2,959 L655.7,956.9" stroke-width="1.2" fill="none" />
<path d="M647.4,1257.4 L649.4,1259.9 L652.4,1257.9" stroke-width="1.2" fill="none" />
<path d="M710.4,990.6 L717.3,986.7" stroke-width="1.2" fill="none" />
<path d="M743.6,965.1 L749,960.4" stroke-width="1.2" fill="none" />
<circle cx="544.1" cy="912.4" r="15.5" fill="#f7fbfe" stroke-width="2.5"/>
<circle cx="544.4" cy="912.7" r="12.6" stroke-width="1.7" stroke="#666"/>
<circle cx="544.9" cy="912.9" r="9.3" stroke-width="2.7" stroke="#444"/>
<path d="M544.6,914.9 l-2.5,-2.5" stroke-width="1.8"/>
<circle cx="766.1" cy="948.1" r="15.5" fill="#f7fbfe" stroke-width="2.5"/>
<circle cx="766.4" cy="948.4" r="12.6" stroke-width="1.7" stroke="#666"/>
<circle cx="766.9" cy="948.6" r="9.3" stroke-width="2.7" stroke="#444"/>
<path d="M766.6,950.6 l-2.5,-2.5" stroke-width="1.8"/>
<path d="M491,1106.1 C487.8,1109.1 475.9,1119.6 471.7,1124.6 C467.4,1129.6 465.8,1131.7 465.5,1136.2 C465.2,1140.7 465.9,1144.5 470.1,1151.7 C474.4,1158.9 487.5,1174.9 491,1179.5" stroke-width="1.6" fill="none" />
<path d="M491,1113.8 C488.4,1116.2 478.8,1124.6 475.5,1128.5 C472.3,1132.3 471.8,1133.6 471.7,1137 C471.6,1140.3 471.6,1142.7 474.8,1148.6 C478,1154.5 488.3,1168.6 491,1172.6" stroke-width="1.3" fill="none" />
<path d="M491,1120 C489.1,1121.9 481.6,1128.6 479.4,1131.6 C477.2,1134.5 477.9,1135.3 477.9,1137.8 C477.9,1140.2 477.2,1142.1 479.4,1146.3 C481.6,1150.4 489.1,1159.8 491,1162.5" stroke-width="1.2" fill="none" />
<path d="M472.5,1123.8 L474.8,1130.8" stroke-width="1.1" fill="none" />
<path d="M472.5,1160.2 L476.3,1155.5" stroke-width="1.1" fill="none" />
<clipPath id="blclip"><rect x="459.0" y="1113.9" width="31.7" height="60"/></clipPath>
<g clip-path="url(#blclip)">
<circle cx="489.0" cy="1143.9" r="14.0" fill="#f7fbfe" stroke-width="2.5"/>
<circle cx="489.3" cy="1144.2" r="11.3" stroke-width="1.7" stroke="#666"/>
<circle cx="489.8" cy="1144.4" r="8.4" stroke-width="2.7" stroke="#444"/>
<path d="M489.5,1146.4 l-2.5,-2.5" stroke-width="1.8"/>
</g>
<path d="M506.5,1139.8 q4,8 0,16" stroke-width="2.2"/>
<path d="M838.6,1184.9 C839.5,1186.8 843.6,1192 843.6,1196.1 C843.6,1200.3 839.5,1207.6 838.6,1209.9" stroke-width="1.4" fill="none" />
<circle cx="812.5" cy="1196.3" r="15.0" fill="#f7fbfe" stroke-width="2.5"/>
<circle cx="812.8" cy="1196.6" r="12.2" stroke-width="1.7" stroke="#666"/>
<circle cx="813.3" cy="1196.8" r="9.0" stroke-width="2.7" stroke="#444"/>
<path d="M813.0,1198.8 l-2.5,-2.5" stroke-width="1.8"/>
</g>
<!-- 22_detail.svg -->
<g id="bolts" stroke="#4a4a4a" fill="none" stroke-linecap="butt" stroke-linejoin="round">
<path d="M533.3,921.3 L429.5,1005.8" stroke-width="1.5" stroke-dasharray="14 6.5 2.5 7"/>
<path d="M385.5,1042.0 L354.9,1068.2" stroke-width="1.5" stroke-dasharray="14 6.5 2.5 7"/>
<path d="M333.3,1086.0 L360.0,1069.6 L354.5,1063.0 Z" fill="#444" stroke="none"/>
<g transform="translate(397.1,1032.5) rotate(-39.5)">
<path d="M33,0 H42" stroke-width="1.3"/>
<circle cx="31.3" cy="0" r="2.2" fill="#fff" stroke-width="1.3"/>
<path d="M11,-8.8 Q20,-9 26,-6.2 Q29.5,-3.5 29.5,0 Q29.5,3.5 26,6.2 Q20,9 11,8.8 Z" fill="#454545" stroke-width="1"/>
<path d="M17,-8.3 Q19,0 17,8.3 M22.5,-7.3 Q24.2,0 22.5,7.3" stroke="#8a8a8a" stroke-width="0.8"/>
<path d="M0,-11.9 L12,-9.8 Q14.6,0 12,9.8 L0,11.9 Z" fill="#fff" stroke-width="1.4"/>
<circle cx="0" cy="0" r="11.9" fill="#fff" stroke-width="1.6"/>
<circle cx="-2.3" cy="0" r="6.2" fill="#fff" stroke-width="2"/>
<path d="M-0.5,-5.2 A5.6,5.6 0 0 1 -0.5,5.2 A7.5,7.5 0 0 0 -0.5,-5.2 Z" fill="#555" stroke="none"/>
<circle cx="-3.8" cy="0" r="2.9" fill="#fff" stroke-width="1.4"/>
<path d="M-3.8,0 H-8" stroke-width="1.3"/>
</g>
<path d="M755.3,957.0 L649.8,1042.0" stroke-width="1.5" stroke-dasharray="14 6.5 2.5 7"/>
<path d="M605.8,1078.2 L576.5,1104.1" stroke-width="1.5" stroke-dasharray="14 6.5 2.5 7"/>
<path d="M554.9,1121.9 L581.6,1105.5 L576.1,1098.9 Z" fill="#444" stroke="none"/>
<g transform="translate(617.4,1068.7) rotate(-39.5)">
<path d="M33,0 H42" stroke-width="1.3"/>
<circle cx="31.3" cy="0" r="2.2" fill="#fff" stroke-width="1.3"/>
<path d="M11,-8.8 Q20,-9 26,-6.2 Q29.5,-3.5 29.5,0 Q29.5,3.5 26,6.2 Q20,9 11,8.8 Z" fill="#454545" stroke-width="1"/>
<path d="M17,-8.3 Q19,0 17,8.3 M22.5,-7.3 Q24.2,0 22.5,7.3" stroke="#8a8a8a" stroke-width="0.8"/>
<path d="M0,-11.9 L12,-9.8 Q14.6,0 12,9.8 L0,11.9 Z" fill="#fff" stroke-width="1.4"/>
<circle cx="0" cy="0" r="11.9" fill="#fff" stroke-width="1.6"/>
<circle cx="-2.3" cy="0" r="6.2" fill="#fff" stroke-width="2"/>
<path d="M-0.5,-5.2 A5.6,5.6 0 0 1 -0.5,5.2 A7.5,7.5 0 0 0 -0.5,-5.2 Z" fill="#555" stroke="none"/>
<circle cx="-3.8" cy="0" r="2.9" fill="#fff" stroke-width="1.4"/>
<path d="M-3.8,0 H-8" stroke-width="1.3"/>
</g>
<path d="M476.8,1154.1 L381.9,1232.7" stroke-width="1.5" stroke-dasharray="14 6.5 2.5 7"/>
<path d="M338.5,1269.6 L301.6,1303.3" stroke-width="1.5" stroke-dasharray="14 6.5 2.5 7"/>
<path d="M280.3,1321.5 L306.7,1304.7 L301.1,1298.1 Z" fill="#444" stroke="none"/>
<g transform="translate(349.9,1259.9) rotate(-40.4)">
<path d="M33,0 H42" stroke-width="1.3"/>
<circle cx="31.3" cy="0" r="2.2" fill="#fff" stroke-width="1.3"/>
<path d="M11,-8.8 Q20,-9 26,-6.2 Q29.5,-3.5 29.5,0 Q29.5,3.5 26,6.2 Q20,9 11,8.8 Z" fill="#454545" stroke-width="1"/>
<path d="M17,-8.3 Q19,0 17,8.3 M22.5,-7.3 Q24.2,0 22.5,7.3" stroke="#8a8a8a" stroke-width="0.8"/>
<path d="M0,-11.9 L12,-9.8 Q14.6,0 12,9.8 L0,11.9 Z" fill="#fff" stroke-width="1.4"/>
<circle cx="0" cy="0" r="11.9" fill="#fff" stroke-width="1.6"/>
<circle cx="-2.3" cy="0" r="6.2" fill="#fff" stroke-width="2"/>
<path d="M-0.5,-5.2 A5.6,5.6 0 0 1 -0.5,5.2 A7.5,7.5 0 0 0 -0.5,-5.2 Z" fill="#555" stroke="none"/>
<circle cx="-3.8" cy="0" r="2.9" fill="#fff" stroke-width="1.4"/>
<path d="M-3.8,0 H-8" stroke-width="1.3"/>
</g>
<path d="M801.7,1205.2 L696.0,1291.9" stroke-width="1.5" stroke-dasharray="14 6.5 2.5 7"/>
<path d="M652.0,1328.1 L621.5,1354.0" stroke-width="1.5" stroke-dasharray="14 6.5 2.5 7"/>
<path d="M599.9,1371.8 L626.5,1355.4 L621.1,1348.7 Z" fill="#444" stroke="none"/>
<g transform="translate(663.6,1318.6) rotate(-39.5)">
<path d="M33,0 H42" stroke-width="1.3"/>
<circle cx="31.3" cy="0" r="2.2" fill="#fff" stroke-width="1.3"/>
<path d="M11,-8.8 Q20,-9 26,-6.2 Q29.5,-3.5 29.5,0 Q29.5,3.5 26,6.2 Q20,9 11,8.8 Z" fill="#454545" stroke-width="1"/>
<path d="M17,-8.3 Q19,0 17,8.3 M22.5,-7.3 Q24.2,0 22.5,7.3" stroke="#8a8a8a" stroke-width="0.8"/>
<path d="M0,-11.9 L12,-9.8 Q14.6,0 12,9.8 L0,11.9 Z" fill="#fff" stroke-width="1.4"/>
<circle cx="0" cy="0" r="11.9" fill="#fff" stroke-width="1.6"/>
<circle cx="-2.3" cy="0" r="6.2" fill="#fff" stroke-width="2"/>
<path d="M-0.5,-5.2 A5.6,5.6 0 0 1 -0.5,5.2 A7.5,7.5 0 0 0 -0.5,-5.2 Z" fill="#555" stroke="none"/>
<circle cx="-3.8" cy="0" r="2.9" fill="#fff" stroke-width="1.4"/>
<path d="M-3.8,0 H-8" stroke-width="1.3"/>
</g>
</g>
<g id="detail">
<circle cx="391" cy="765" r="137" fill="#ffffff"/>
<clipPath id="dclip"><circle cx="391" cy="765" r="136"/></clipPath>
<g clip-path="url(#dclip)">
<g stroke="#e9ebec" stroke-width="1.6" fill="none"><path d="M461,762 L560,676 M461,778 L470,950 M470,772 L540,783 M500,870 Q500,868 515,868.6 L540,872"/></g>
<g transform="translate(310,690) scale(0.130875)" stroke="#111" fill="none" stroke-linecap="round" stroke-linejoin="round">
<path d="M63,2 Q-40,290 -169,647" stroke-width="6"/>
<path d="M320,160 C341.7,147.5 403.3,101.7 450,85 C496.7,68.3 548.3,55.8 600,60 C651.7,64.2 713.3,88.3 760,110 C806.7,131.7 850.8,168.3 880,190 C909.2,211.7 925.8,231.7 935,240" stroke-width="6"/>
<path d="M1060,320 L1580,128" stroke-width="6"/>
<path d="M915,1220 L1110,1025" stroke-width="6"/>
<path d="M775,310 C762.5,297 732.5,254 700,232 C667.5,210 621.7,189 580,178 C538.3,167 493.3,163.7 450,166 C406.7,168.3 360.8,175 320,192 C279.2,209 224.2,255.3 205,268" stroke-width="40" stroke-linecap="butt"/>
<path d="M66,378 L152,182 L278,346 Z" fill="#111" stroke="none"/>
<ellipse cx="553" cy="690" rx="278" ry="316" fill="#fff" stroke-width="7" transform="rotate(-8 553 690)"/>
<ellipse cx="512" cy="698" rx="250" ry="272" fill="#0d0d0d" stroke="none" transform="rotate(-10 512 698)"/>
<ellipse cx="414" cy="762" rx="226" ry="242" fill="#fff" stroke-width="17" transform="rotate(-12 414 762)"/>
<ellipse cx="383" cy="775" rx="150" ry="186" fill="#fff" stroke-width="14" transform="rotate(-10 383 775)"/>
<ellipse cx="362" cy="785" rx="134" ry="170" fill="#fff" stroke-width="8" transform="rotate(-10 362 785)"/>
<path d="M282,672 L395,655 L455,735 L448,850 L380,905 L262,880 Z" fill="#fff" stroke-width="9"/>
<path d="M395,655 L400,690 L448,760 L455,735 M400,690 L290,705 L282,672 M448,760 L440,860" stroke-width="5"/>
<ellipse cx="335" cy="800" rx="88" ry="98" fill="#fff" stroke-width="6"/>
<path d="M335.6,760.4 L343.2,786.3 L369.4,793.1 L347.1,808.3 L348.8,835.3 L327.4,818.8 L302.2,828.8 L311.3,803.3 L294,782.5 L321.1,783.2 Z" fill="#fff" stroke-width="6"/>
<path d="M905,610 C896.3,606.3 885,584 885,572 C885,560 895,533.3 905,520 C915,506.7 940.7,483.1 960,472 C979.3,460.9 1027.3,442.3 1050,437 C1072.7,431.7 1110,427.9 1130,432 C1150,436.1 1184,454.9 1200,468 C1216,481.1 1238,513.7 1250,530 C1262,546.3 1278,576 1290,590 C1302,604 1322.7,624.3 1340,635 C1357.3,645.7 1390.7,659.3 1420,670 C1449.3,680.7 1516,701 1560,715 C1604,729 1724.7,740.3 1750,775 C1775.3,809.7 1770,955 1750,975 C1730,995 1636,937 1600,925 C1564,913 1506.7,892.1 1480,885 C1453.3,877.9 1418.7,871.3 1400,872 C1381.3,872.7 1354.7,882.3 1340,890 C1325.3,897.7 1304.7,922 1290,930 C1275.3,938 1248.7,948 1230,950 C1211.3,952 1170,950.3 1150,945 C1130,939.7 1098.7,920.7 1080,910 C1061.3,899.3 1026,875.7 1010,865 C994,854.3 965.1,838.7 960,830 C954.9,821.3 961.3,806.4 972,800 C982.7,793.6 1021.6,782 1040,782 C1058.4,782 1095.3,798.9 1110,800 C1124.7,801.1 1142.5,795.3 1150,790 C1157.5,784.7 1164.7,772 1166,760 C1167.3,748 1164.8,715.7 1160,700 C1155.2,684.3 1139.3,653.7 1130,642 C1120.7,630.3 1103.3,618.7 1090,612 C1076.7,605.3 1048.7,593.6 1030,592 C1011.3,590.4 966.7,597.6 950,600 C933.3,602.4 913.7,613.7 905,610 Z" fill="#d6d6d6" stroke-width="11"/>
<path d="M1200,468 C1211.7,486.7 1251.3,541.3 1270,580 C1288.7,618.7 1301.7,663.3 1312,700 C1322.3,736.7 1331.5,770 1332,800 C1332.5,830 1322,858.3 1315,880 C1308,901.7 1294.2,921.7 1290,930" stroke-width="6"/>
<path d="M1330,660 C1350,666.7 1380,676.7 1450,700 C1520,723.3 1700,783.3 1750,800" stroke-width="6"/>
<path d="M972,800 C985,803 1025.3,812.7 1050,818 C1074.7,823.3 1103,833.7 1120,832 C1137,830.3 1146.7,812 1152,808" stroke-width="5"/>
<path d="M905,610 C914.2,605 935.8,585.8 960,580 C984.2,574.2 1023.3,570 1050,575 C1076.7,580 1108.3,604.2 1120,610" stroke-width="5"/>
</g></g>
<circle cx="391" cy="765" r="137" fill="none" stroke="#e2001a" stroke-width="5.6"/>
</g>
<!-- 25_parts.svg -->
<g id="parts" stroke="#505050" stroke-linecap="round" stroke-linejoin="round" fill="#ffffff">
<g transform="translate(1160,700) scale(0.21416)" stroke-width="11.1">
<path d="M222,215 H850 Q868,216 880,228 L900,233 H1115 V345 H900 L880,350 Q868,361 850,362 H222 Z"/>
<path d="M1105,240 H1575 L1610,262 Q1622,268 1622,282 V298 Q1622,312 1610,318 L1575,340 H1105 Z"/>
<path d="M1130,214 q-10,-2 -8,10 l26,138 q3,12 12,8 q6,-3 4,-12 l-24,-136 q-2,-10 -10,-8 z" stroke-width="8.5"/>
<path d="M1200,214 q-10,-2 -8,10 l26,138 q3,12 12,8 q6,-3 4,-12 l-24,-136 q-2,-10 -10,-8 z" stroke-width="8.5"/>
<path d="M1268,214 q-10,-2 -8,10 l26,138 q3,12 12,8 q6,-3 4,-12 l-24,-136 q-2,-10 -10,-8 z" stroke-width="8.5"/>
<path d="M1338,214 q-10,-2 -8,10 l26,138 q3,12 12,8 q6,-3 4,-12 l-24,-136 q-2,-10 -10,-8 z" stroke-width="8.5"/>
<path d="M1408,214 q-10,-2 -8,10 l26,138 q3,12 12,8 q6,-3 4,-12 l-24,-136 q-2,-10 -10,-8 z" stroke-width="8.5"/>
<path d="M1478,214 q-10,-2 -8,10 l26,138 q3,12 12,8 q6,-3 4,-12 l-24,-136 q-2,-10 -10,-8 z" stroke-width="8.5"/>
<path d="M1548,214 q-10,-2 -8,10 l26,138 q3,12 12,8 q6,-3 4,-12 l-24,-136 q-2,-10 -10,-8 z" stroke-width="8.5"/>
<rect x="88" y="145" width="110" height="296" rx="32"/>
<path d="M92,206 H182 M92,376 H182" stroke-width="6.5"/>
<rect x="180" y="112" width="42" height="358" rx="19"/>
</g>
<g transform="translate(1160,850) scale(0.15467)" stroke-width="14.3">
<path d="M1230,228 H1380 C1480,228 1555,360 1555,522 C1555,690 1480,820 1380,820 H1230 Z" fill="#ededed" stroke="none"/>
<path d="M1190,238 Q1210,226 1235,227 H1380 C1480,228 1555,360 1555,522 C1555,690 1480,820 1380,820 H1235 Q1210,820 1190,805" fill="none"/>
<path d="M1330,232 C1420,260 1470,390 1470,522 C1470,660 1420,790 1330,815" fill="none" stroke-width="9.1"/>
<path d="M1230,232 C1300,260 1350,300 1380,350 M1230,815 C1300,790 1350,750 1380,700" fill="none" stroke-width="9.1"/>
<path d="M1040,250 H1230 V790 H1040 Z" fill="#f4f4f4" stroke-width="9.1"/>
<path d="M1060,292 H1230 M1080,350 H1370 L1385,380 V410 H1100 M1105,436 H1370 M1110,492 H1415 V550 H1110 M1105,610 H1380 M1100,640 H1390 L1375,695 H1085 M1070,748 H1230 M1230,250 V292 M1230,748 V790" fill="none" stroke-width="11.7"/>
<path d="M940,228 H985 C1070,240 1115,380 1115,522 C1115,665 1070,800 985,820 H940 Z" fill="#ededed"/>
<path d="M760,228 H940 C1020,240 1075,380 1075,522 C1075,665 1020,800 940,820 H760 Z"/>
<path d="M333,105 H470 Q500,135 540,105 H610 C730,105 815,300 815,522 C815,745 730,940 610,940 H545 Q505,900 470,940 H333 Z" stroke-width="15.6"/>
<path d="M497,128 C520,190 570,205 603,198 C600,160 585,130 568,112 M497,916 C520,856 570,842 603,850 C600,885 585,915 568,932" fill="none" stroke-width="9.1"/>
<path d="M640,362 Q675,345 712,364 Q738,380 738,440 V610 Q738,665 708,684 Q672,700 642,682 Q615,665 618,610 V440 Q615,380 640,362 Z" stroke-width="9.1"/>
<ellipse cx="333" cy="522" rx="208" ry="416" stroke-width="15.6"/>
<ellipse cx="320" cy="522" rx="102" ry="216" stroke-width="15.6"/>
<path d="M352,345 C300,420 300,630 352,700 M395,392 C350,440 350,600 392,655" fill="none" stroke-width="7.8"/>
</g>
<g transform="translate(1160,1020) scale(0.17847)" stroke-width="14.3">
<path d="M890,295 C913.3,309.2 924.2,305 940,300 C955.8,295 965,285 985,265 C1005,245 1032.5,203.3 1060,180 C1087.5,156.7 1118.3,137 1150,125 C1181.7,113 1216.7,107.2 1250,108 C1283.3,108.8 1318.3,113.8 1350,130 C1381.7,146.2 1416.7,175 1440,205 C1463.3,235 1481.7,277.5 1490,310 C1498.3,342.5 1496.7,366.7 1490,400 C1483.3,433.3 1466.7,473.3 1450,510 C1433.3,546.7 1408.3,588.3 1390,620 C1371.7,651.7 1360,677.5 1340,700 C1320,722.5 1296.7,742 1270,755 C1243.3,768 1208.3,775.8 1180,778 C1151.7,780.2 1138.3,778.5 1100,768 C1061.7,757.5 1008.3,736 950,715 C891.7,694 798.3,650.8 750,642 C701.7,633.2 693.3,655.3 660,662 C626.7,668.7 593.3,680.3 550,682 C506.7,683.7 450,680.3 400,672 C350,663.7 293.3,649.8 250,632 C206.7,614.2 163.3,588.7 140,565 C116.7,541.3 115.3,523.3 110,490 C104.7,456.7 105.5,397.5 108,365 C110.5,332.5 109.7,318.3 125,295 C140.3,271.7 162.5,244.2 200,225 C237.5,205.8 300,189.5 350,180 C400,170.5 450,168.7 500,168 C550,167.3 600,168.2 650,176 C700,183.8 760,195.2 800,215 C840,234.8 866.7,280.8 890,295 Z"/>
<path d="M108,365 C110,371.7 111.3,390.8 120,405 C128.7,419.2 138.3,434.2 160,450 C181.7,465.8 210,484.2 250,500 C290,515.8 350,535.7 400,545 C450,554.3 500,558.2 550,556 C600,553.8 667.5,538.7 700,532 C732.5,525.3 737.5,518.7 745,516" fill="none"/>
<path d="M112,395 C115.8,402.5 123.7,425 135,440 C146.3,455 157.5,470 180,485 C202.5,500 230,515.3 270,530 C310,544.7 371.7,564.2 420,573 C468.3,581.8 513.3,585.2 560,583 C606.7,580.8 668,566.8 700,560 C732,553.2 743.3,545 752,542" fill="none" stroke-width="10.4"/>
<path d="M112,480 C115,486.7 117,505 130,520 C143,535 161.7,554.2 190,570 C218.3,585.8 256.7,602.5 300,615 C343.3,627.5 403.3,639.2 450,645 C496.7,650.8 545,651.7 580,650 C615,648.3 646.7,637.5 660,635" fill="none" stroke-width="10.4"/>
<path d="M660,610 V645" stroke-width="7.8"/>
<path d="M745,516 C759.2,512 805.8,505.5 830,492 C854.2,478.5 870.8,456.2 890,435 C909.2,413.8 923.3,384.2 945,365 C966.7,345.8 994.2,329.5 1020,320 C1045.8,310.5 1071.7,307.7 1100,308 C1128.3,308.3 1161.7,310.8 1190,322 C1218.3,333.2 1245.8,351.2 1270,375 C1294.2,398.8 1318,434.2 1335,465 C1352,495.8 1364.8,530.8 1372,560 C1379.2,589.2 1377,626.7 1378,640" fill="none"/>
<path d="M752,542 C767,537.3 815.7,529.7 842,514 C868.3,498.3 889.5,469.8 910,448 C930.5,426.2 945,401 965,383 C985,365 1007.5,348.8 1030,340 C1052.5,331.2 1074.7,329.7 1100,330 C1125.3,330.3 1156.2,331.7 1182,342 C1207.8,352.3 1232.8,369.8 1255,392 C1277.2,414.2 1299.5,446.2 1315,475 C1330.5,503.8 1341.8,535.8 1348,565 C1354.2,594.2 1360,623.8 1352,650 C1344,676.2 1325.3,705 1300,722 C1274.7,739 1232.5,748.7 1200,752 C1167.5,755.3 1146.7,752.3 1105,742 C1063.3,731.7 1007.5,710.7 950,690 C892.5,669.3 791.7,630 760,618" fill="none" stroke-width="9.1"/>
<path d="M945,425 C962.5,430 1012.5,442.5 1050,455 C1087.5,467.5 1136.7,488.8 1170,500 C1203.3,511.2 1222.5,518.7 1250,522 C1277.5,525.3 1320.8,520.3 1335,520" fill="none" stroke-width="11.7"/>
<ellipse cx="522" cy="346" rx="140" ry="73" stroke-width="14.3"/>
<path d="M400,372 C440,330 600,330 645,372 M420,392 C470,352 585,355 625,395 M440,400 C480,425 570,425 612,398" fill="none" stroke-width="9.1"/>
<path d="M375,205 L455,270 M640,205 L585,268 M178,290 L355,315 M680,300 L845,272 M190,412 L355,380 M680,370 L850,405 M362,500 L425,430 M655,500 L590,428" stroke-width="7.8" fill="none"/>
</g>
<g transform="translate(1160,1190) scale(0.11898)" stroke-width="20.8">
<path d="M160,495 A679,321 0 0 1 1518,495 V572 A679,318 0 0 1 160,572 Z"/>
<path d="M160,495 A679,318 0 0 0 1518,495" fill="none" stroke-width="9.1"/>
<ellipse cx="838" cy="497" rx="195" ry="99" stroke-width="13"/>
<path d="M662,520 C720,430 960,430 1016,520" fill="none" stroke-width="19.5"/>
</g>
</g>
<!-- 30_panel2.svg -->
<g id="panel2">
<rect x="229.6" y="1844.3" width="585.2" height="538.7" fill="#f7fbfe" stroke="#4d4d4d" stroke-width="5.6"/>
<clipPath id="p2clip"><rect x="232.4" y="1847.1" width="579.6" height="533.1"/></clipPath>
<g clip-path="url(#p2clip)"><g transform="translate(225,1840) scale(0.35693)" fill="none" stroke="#4d4d4d" stroke-width="5.2" stroke-linecap="round" stroke-linejoin="round">
<path d="M225,1540 V190 H1660"/>
<path d="M225,268 H1660" stroke-width="6.5"/>
<path d="M610,458 L485,456 Q455,455 455,428 V347 Q455,320 482,320 L1270,315 L1357,342 L1600,344 Q1652,348 1658,400 V450 Q1652,500 1600,505 L1480,503"/>
<circle cx="1533" cy="420" r="36"/><circle cx="1533" cy="420" r="26.5"/>
<path d="M655,398 C655,382.2 667.5,359.2 700,345 C732.5,330.8 800,318.7 850,313 C900,307.3 960,307.7 1000,311 C1040,314.3 1045.8,330.7 1090,333 C1134.2,335.3 1215.8,319.7 1265,325 C1314.2,330.3 1360,348.3 1385,365 C1410,381.7 1413.3,404.2 1415,425 C1416.7,445.8 1410.8,471.7 1395,490 C1379.2,508.3 1352.5,524 1320,535 C1287.5,546 1245,553.2 1200,556 C1155,558.8 1100,558.8 1050,552 C1000,545.2 943.3,527.3 900,515 C856.7,502.7 823.3,490.5 790,478 C756.7,465.5 722.5,453.3 700,440 C677.5,426.7 655,413.8 655,398 Z"/>
<path d="M672,400 C671.3,387.8 682,369.3 712,357 C742,344.7 804,331.5 852,326 C900,320.5 960.3,320.7 1000,324 C1039.7,327.3 1046.3,343.7 1090,346 C1133.7,348.3 1215,333 1262,338 C1309,343 1349,361.5 1372,376 C1395,390.5 1398.3,407.3 1400,425 C1401.7,442.7 1396.3,465.8 1382,482 C1367.7,498.2 1344.3,511.8 1314,522 C1283.7,532.2 1243.7,540.3 1200,543 C1156.3,545.7 1101.2,544.8 1052,538 C1002.8,531.2 947,514 905,502 C863,490 831.5,478 800,466 C768.5,454 737.3,441 716,430 C694.7,419 672.7,412.2 672,400 Z"/>
<circle cx="1357" cy="417" r="34" stroke-width="5.5"/><circle cx="1357" cy="417" r="25" stroke-width="5.5"/>
<path d="M368,362 C376.7,368.3 398,389.3 420,400 C442,410.7 473.3,421 500,426 C526.7,431 552.7,432.5 580,430 C607.3,427.5 650,414.2 664,411" stroke-width="16" />
<path d="M368,362 C376.7,368.3 398,389.3 420,400 C442,410.7 473.3,421 500,426 C526.7,431 552.7,432.5 580,430 C607.3,427.5 650,414.2 664,411" stroke-width="6.5" stroke="#f7fbfe"/>
<circle cx="365" cy="355" r="37"/>
<circle cx="370" cy="405" r="14" fill="#f7fbfe"/><circle cx="370" cy="405" r="4.5" stroke-width="3.5"/>
<circle cx="358" cy="353" r="11"/>
<path d="M560,560 C550,565 520,575.8 500,590 C480,604.2 461.7,620 440,645 C418.3,670 392.5,710.8 370,740 C347.5,769.2 318.7,800 305,820 C291.3,840 291,845.8 288,860 C285,874.2 287.2,897.5 287,905 L290,1540"/>
<path d="M1500,505 C1514.5,517.2 1560.3,554.7 1587,578 C1613.7,601.3 1647.8,633.8 1660,645"/>
<circle cx="585" cy="690" r="43" stroke-width="11.5"/><path d="M606,690 L595.5,708.2 L574.5,708.2 L564,690 L574.5,671.8 L595.5,671.8 Z" stroke-width="4.5"/>
<circle cx="1428" cy="690" r="47" stroke-width="13"/><path d="M1447.1,701 L1428,712 L1408.9,701 L1408.9,679 L1428,668 L1447.1,679 Z" stroke-width="5"/>
<path d="M612,1540 L597,1140 C600,900 800,805 950,805 C1150,805 1400,900 1405,1150 L1388,1540"/>
<path d="M750,1540 L737,1158 C740,1000 850,916 960,916 C1100,916 1270,1000 1277,1148 L1258,1540"/>
<path d="M845,1168 C845,1080 920,1023 995,1023 C1080,1023 1165,1080 1165,1168 L1155,1348 C1150,1420 1060,1458 1000,1458 C940,1458 860,1420 853,1348 Z" stroke-width="5.5"/>
<path d="M396,1580 C396.5,1550 396.8,1463.3 399,1400 C401.2,1336.7 403,1266.7 409,1200 C415,1133.3 424.5,1061.7 435,1000 C445.5,938.3 457.3,882.5 472,830 C486.7,777.5 503.3,730 523,685 C542.7,640 565.8,595 590,560 C614.2,525 638.8,498.3 668,475 C697.2,451.7 730,434.5 765,420 C800,405.5 840.5,395 878,388 C915.5,381 953,377.7 990,378 C1027,378.3 1065.8,384.2 1100,390 C1134.2,395.8 1155.3,399.2 1195,413 C1234.7,426.8 1295,451.8 1338,473 C1381,494.2 1414.7,512.8 1453,540 C1491.3,567.2 1536.3,604.5 1568,636 C1599.7,667.5 1619.3,696.7 1643,729 C1666.7,761.3 1698.8,813.2 1710,830" stroke-width="95" stroke-linecap="butt"/>
<path d="M396,1580 C396.5,1550 396.8,1463.3 399,1400 C401.2,1336.7 403,1266.7 409,1200 C415,1133.3 424.5,1061.7 435,1000 C445.5,938.3 457.3,882.5 472,830 C486.7,777.5 503.3,730 523,685 C542.7,640 565.8,595 590,560 C614.2,525 638.8,498.3 668,475 C697.2,451.7 730,434.5 765,420 C800,405.5 840.5,395 878,388 C915.5,381 953,377.7 990,378 C1027,378.3 1065.8,384.2 1100,390 C1134.2,395.8 1155.3,399.2 1195,413 C1234.7,426.8 1295,451.8 1338,473 C1381,494.2 1414.7,512.8 1453,540 C1491.3,567.2 1536.3,604.5 1568,636 C1599.7,667.5 1619.3,696.7 1643,729 C1666.7,761.3 1698.8,813.2 1710,830" stroke-width="74" stroke="#ffffff" stroke-linecap="butt"/>
<path d="M1143,366 l32,7 l-3,13 l-32,-7 z M1138,430 l32,7 l-3,13 l-32,-7 z M1588,722 l10,-6 l16,24 l-10,6 z" stroke-width="4" fill="#fff"/><path d="M1643,668 l6,22" stroke-width="5"/>
<path d="M402,838 L502,857 L493,886 L406,866 A14.5,14.5 0 0 1 402,838 Z" stroke-width="5.2" fill="#ffffff"/>
<circle cx="401" cy="851" r="7.5" fill="#666" stroke-width="2.5"/>
</g></g>
<circle cx="384.5" cy="2151.2" r="46.5" fill="none" stroke="#e2001a" stroke-width="8.6"/>
</g>
<!-- 40_panel3.svg -->
<g id="panel3">
<rect x="1063" y="1842.3" width="672.5" height="543.7" fill="#f7fbfe" stroke="#4d4d4d" stroke-width="5.5"/>
<!-- floor -->
<line x1="1118.5" y1="2347" x2="1693" y2="2347" stroke="#4d4d4d" stroke-width="5.4" stroke-linecap="round"/>
<!-- faucet -->
<g fill="#f7fbfe" stroke="#4d4d4d" stroke-width="1.4">
<rect x="1266.5" y="1882.3" width="32.4" height="8" rx="2.5"/>
<path d="M1278.7,1941.8 V2082 Q1278.7,2106.7 1304,2106.7 H1431.4 M1289.8,1941.8 V2079 Q1289.8,2097.2 1308,2097.2 H1431.4" fill="none"/>
<rect x="1279.6" y="1924" width="7.9" height="10" />
<circle cx="1283.2" cy="1912.3" r="19.2"/>
<circle cx="1283.2" cy="1912.3" r="11.3"/>
<rect x="1281.2" y="1885.4" width="3.6" height="11.4" rx="1.8"/>
<rect x="1275.6" y="1933.7" width="16.6" height="8.1" fill="#dbe7ee"/>
<!-- socket -->
<rect x="1325" y="1880.7" width="34" height="27.8"/>
<circle cx="1342.2" cy="1893.8" r="10"/>
<circle cx="1338" cy="1894.2" r="0.9" fill="#4d4d4d"/>
<circle cx="1346.3" cy="1894.2" r="0.9" fill="#4d4d4d"/>
<rect x="1340.9" y="1884.6" width="2.6" height="3.4" fill="#4d4d4d" stroke="none"/>
<rect x="1338.8" y="1908.5" width="7" height="5"/>
<path d="M1335.8,1913.3 H1350 V1917 L1346.5,1919 L1345.3,1926 H1339.2 L1338,1919 L1335.8,1917 Z"/>
<path d="M1341.7,1926 V2043 Q1341.7,2056 1354,2056 H1431.4 M1345.8,1926 V2041 Q1345.8,2052.7 1357,2052.7 H1431.4" fill="none"/>
</g>
<!-- drain hose corrugated -->
<g fill="none">
<path id="dh" d="M1216.6,2181.6 C1232,2178.5 1250,2177.5 1266,2181.5 C1292,2188 1308,2203.5 1327,2201.2 C1350,2198 1358,2166 1384,2150 C1400,2140.5 1416,2138.5 1431.4,2137.6" stroke="#4d4d4d" stroke-width="10.4"/>
<path d="M1216.6,2181.6 C1232,2178.5 1250,2177.5 1266,2181.5 C1292,2188 1308,2203.5 1327,2201.2 C1350,2198 1358,2166 1384,2150 C1400,2140.5 1416,2138.5 1431.4,2137.6" stroke="#f7fbfe" stroke-width="7.8"/>
<path d="M1216.6,2181.6 C1232,2178.5 1250,2177.5 1266,2181.5 C1292,2188 1308,2203.5 1327,2201.2 C1350,2198 1358,2166 1384,2150 C1400,2140.5 1416,2138.5 1431.4,2137.6" stroke="#4d4d4d" stroke-width="7.8" stroke-dasharray="1.3 3.3"/>
</g>
<!-- sink -->
<line x1="1108.5" y1="2122" x2="1136" y2="2122" stroke="#4d4d4d" stroke-width="1"/>
<g fill="#ffffff" stroke="#4d4d4d" stroke-width="1.6" stroke-linejoin="round">
<rect x="1198.2" y="2163" width="18.4" height="182"/>
<path d="M1198.2,2171 Q1207.4,2164 1216.6,2171" fill="none"/>
<line x1="1198.2" y1="2171.5" x2="1216.6" y2="2171.5"/>
<rect x="1195.1" y="2211.8" width="24.8" height="11.5" rx="2"/>
<path d="M1135.2,2121.4 H1279.1 V2127.6 H1270.5 C1266,2150 1238,2164.2 1206.6,2164.2 C1176,2164.2 1152,2150 1141,2127.6 H1135.2 Z"/>
<path d="M1135.2,2121.8 H1279.1" stroke-width="2.4"/>
</g>
<!-- dimension arrow -->
<g fill="#4d4d4d" stroke="none">
<rect x="1139.7" y="2146" width="1.5" height="176"/>
<path d="M1140.2,2125.7 L1153.9,2148.5 H1126.1 Z"/>
<path d="M1140.4,2344.2 L1154.5,2319.6 H1126.1 Z"/>
</g>
<text transform="translate(1128.5,2308.5) rotate(-90)" font-size="26.7" font-family="'DejaVu Sans Condensed','DejaVu Sans','Liberation Sans',sans-serif" fill="#4d4d4d" stroke="#4d4d4d" stroke-width="0.4" textLength="135" lengthAdjust="spacingAndGlyphs">Max.100cm</text>
<!-- washer -->
<g fill="#f7fbfe" stroke="#4d4d4d" stroke-width="1.7" stroke-linejoin="round">
<rect x="1432" y="2010" width="239" height="332.5" stroke-width="2"/>
<path d="M1432,2066 L1671,2064 M1507.7,2010 V2065.5 M1432,2297.2 H1671" fill="none" stroke-width="1.2"/>
<circle cx="1552.7" cy="2165.5" r="94.2" stroke-width="2.3"/>
<circle cx="1553.6" cy="2166" r="64" stroke-width="1.1"/>
</g>
</g>

</svg>
</body>
</html>
